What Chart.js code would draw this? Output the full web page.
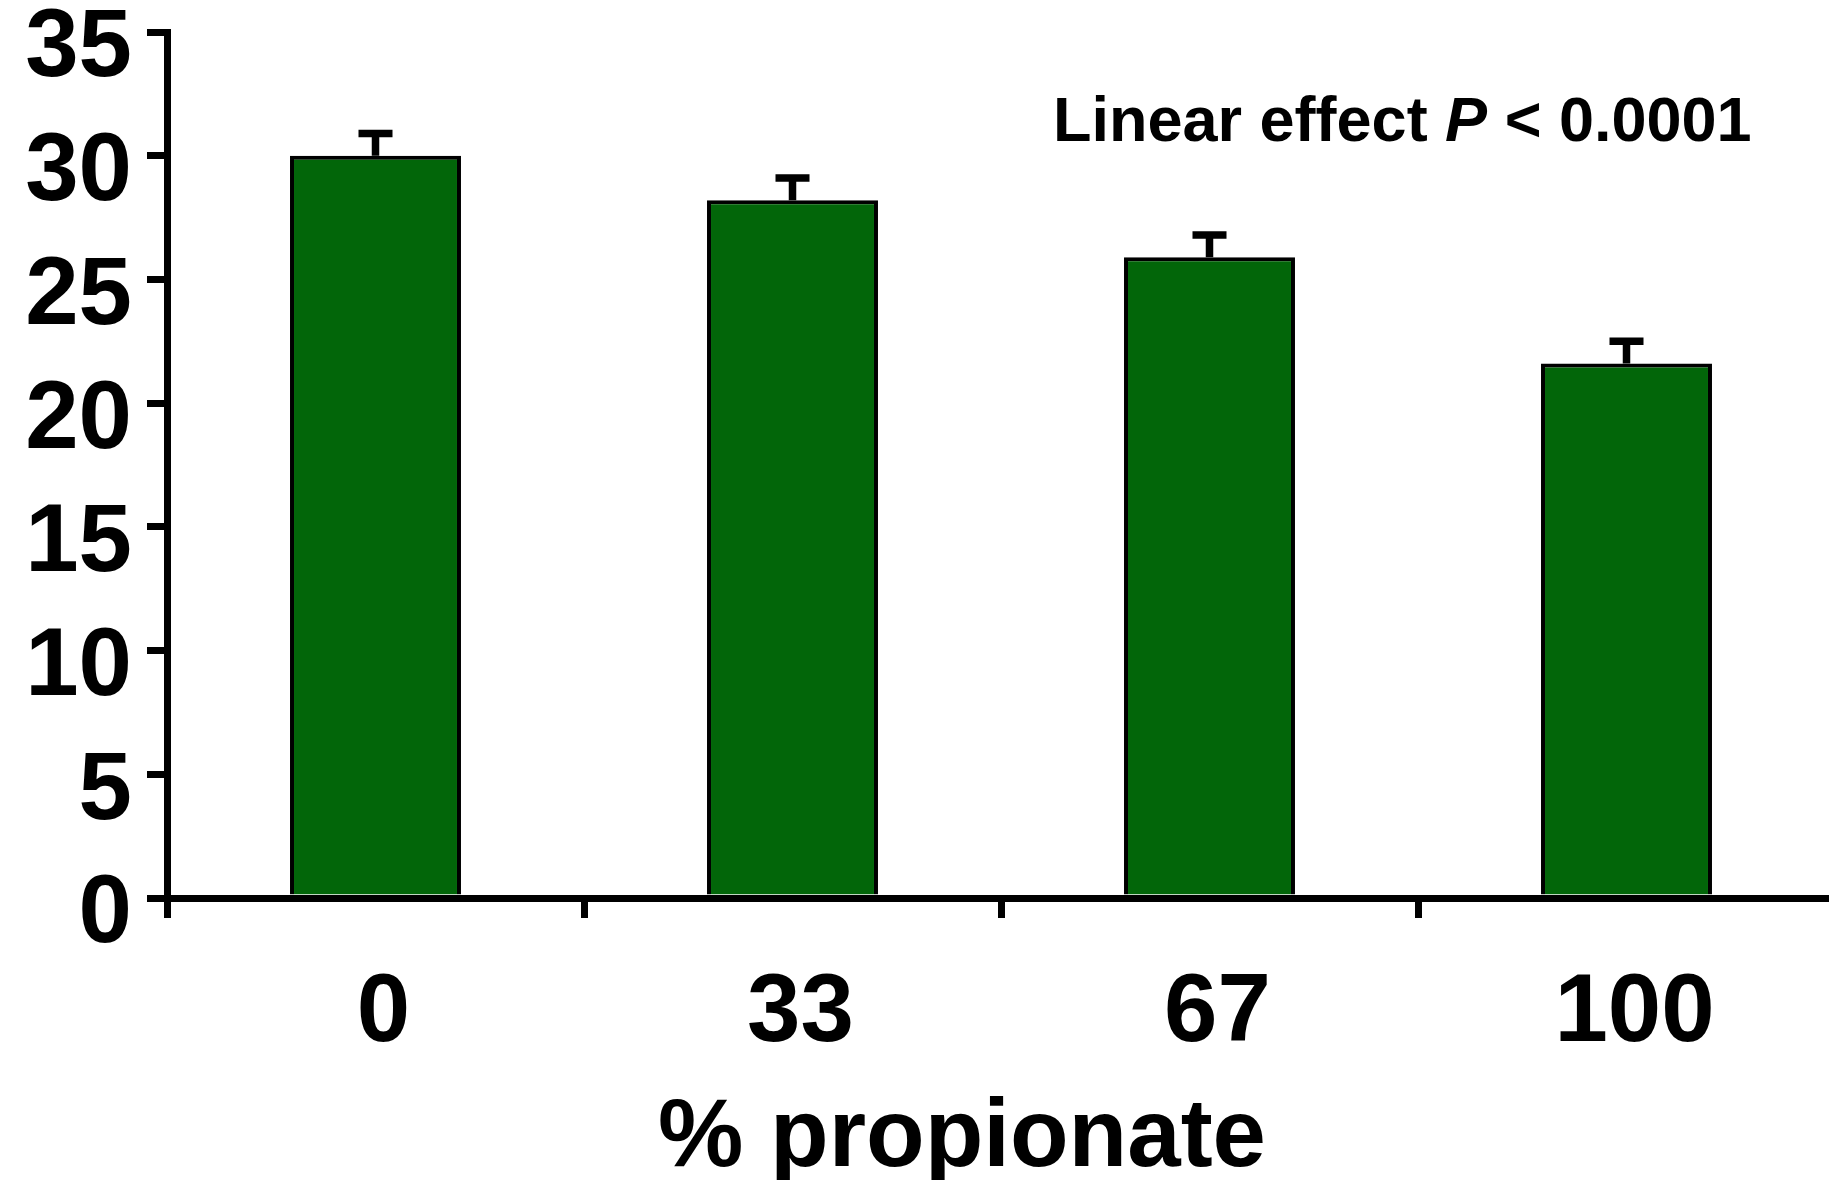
<!DOCTYPE html>
<html lang="en">

<head>
    <meta charset="UTF-8">
    <title>% propionate</title>
    <script src="https://cdn.jsdelivr.net/npm/chart.js@4.4.0/dist/chart.umd.min.js"></script>
    <style>
        html, body { margin: 0; padding: 0; background: #fff; overflow: hidden; }
        canvas { display: block; }
    </style>
</head>

<body>
    <canvas id="chart" width="1835" height="1180"></canvas>

    <script>
        // data ------------------------------------------------
        const categories = ['0', '33', '67', '100']
        const means = [30.0, 28.2, 25.9, 21.6]
        const sem = [0.9, 0.9, 0.9, 0.9]
        const yTicks = [0, 5, 10, 15, 20, 25, 30, 35]
        const xTitle = '% propionate'
        const note = ['Linear effect ', 'P', ' < 0.0001']

        const FONT = '"Liberation Sans", Arial, Helvetica, sans-serif'

        // error bars -------------------------------------------
        const errorBars = {
            id: 'errorBars',
            afterDatasetsDraw(chart) {
                const ctx = chart.ctx
                const y = chart.scales.y
                const meta = chart.getDatasetMeta(0)
                ctx.save()
                ctx.strokeStyle = '#000'
                ctx.lineWidth = 7.5
                meta.data.forEach((bar, i) => {
                    const top = y.getPixelForValue(means[i] + sem[i])
                    ctx.beginPath()
                    ctx.moveTo(bar.x, bar.y)
                    ctx.lineTo(bar.x, top)
                    ctx.moveTo(bar.x - 17, top)
                    ctx.lineTo(bar.x + 17, top)
                    ctx.stroke()
                })
                ctx.restore()
            }
        }

        // texts ------------------------------------------------
        const texts = {
            id: 'texts',
            afterDraw(chart) {
                const ctx = chart.ctx
                ctx.save()
                ctx.fillStyle = '#000'
                ctx.textBaseline = 'alphabetic'

                // annotation
                let x = 1053
                const fonts = ['bold 63px ' + FONT, 'italic bold 63px ' + FONT, 'bold 63px ' + FONT]
                note.forEach((t, i) => {
                    ctx.font = fonts[i]
                    ctx.textAlign = 'left'
                    ctx.fillText(t, x, 141)
                    x += ctx.measureText(t).width
                })

                // x axis title
                ctx.font = 'bold 96px ' + FONT
                ctx.textAlign = 'center'
                ctx.fillText(xTitle, 962, 1166)
                ctx.restore()
            }
        }

        //chart-------------------------------------------
        const ctx = document.getElementById('chart').getContext('2d')
        const myChart = new Chart(ctx, {
            type: 'bar',
            data: {
                labels: categories,
                datasets: [{
                    data: means,
                    backgroundColor: '#026609',
                    borderColor: '#000',
                    borderWidth: 4,
                    borderSkipped: 'bottom',
                    barPercentage: 0.41,
                    categoryPercentage: 1
                }]
            },
            options: {
                responsive: false,
                animation: false,
                layout: {
                    padding: { left: 0, top: 32, right: 0, bottom: 108 }
                },
                plugins: {
                    legend: { display: false },
                    tooltip: { enabled: false }
                },
                scales: {
                    x: {
                        grid: {
                            offset: true,
                            drawOnChartArea: false,
                            drawTicks: true,
                            tickLength: 20,
                            lineWidth: 7,
                            color: '#000'
                        },
                        border: { display: true, width: 7, color: '#000' },
                        ticks: {
                            color: '#000',
                            font: { family: FONT, size: 96, weight: 'bold' },
                            padding: 39,
                            labelOffset: 8,
                            maxRotation: 0,
                            autoSkip: false
                        },
                        afterFit(scale) {
                            scale.height = 174
                            scale.paddingLeft = 0
                            scale.paddingRight = 0
                        }
                    },
                    y: {
                        min: 0,
                        max: 35,
                        afterBuildTicks(scale) {
                            scale.ticks = yTicks.map(v => ({ value: v }))
                        },
                        grid: {
                            drawOnChartArea: false,
                            drawTicks: true,
                            tickLength: 20,
                            lineWidth: 7,
                            color: '#000'
                        },
                        border: { display: true, width: 7, color: '#000' },
                        ticks: {
                            color: '#000',
                            font: { family: FONT, size: 96, weight: 'bold' },
                            padding: 15,
                            labelOffset: 18
                        },
                        afterFit(scale) {
                            scale.width = 167
                            scale.paddingTop = 0
                            scale.paddingBottom = 0
                        }
                    }
                }
            },
            plugins: [errorBars, texts]
        })
    </script>

</body>

</html>
